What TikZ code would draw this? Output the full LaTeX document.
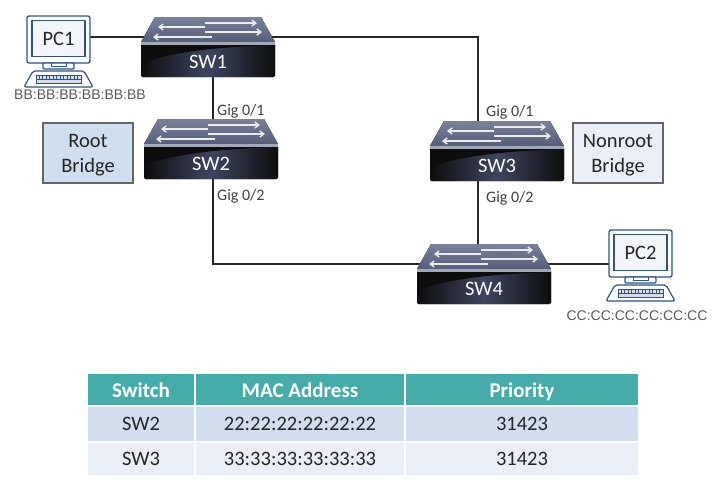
\documentclass[tikz,border=0pt]{standalone}
\usepackage{fontspec}
\setmainfont{Carlito}
\newfontfamily\arialfont{Liberation Sans}
\usetikzlibrary{backgrounds,calc,arrows.meta}
\definecolor{pcblue}{HTML}{2F5485}
\definecolor{swtop}{HTML}{7A8199}
\definecolor{swtopd}{HTML}{555D7A}
\definecolor{swbody}{HTML}{3E4560}
\definecolor{swedge}{HTML}{A3A8B6}
\definecolor{tealhead}{HTML}{45ACA9}
\definecolor{rowa}{HTML}{D2DDEE}
\definecolor{rowb}{HTML}{E9EEF7}
\definecolor{rootfill}{HTML}{CFDFF0}
\tikzset{
  link/.style={draw=black!85,line width=1.6pt},
  swnode/.style={inner sep=0pt,minimum width=134pt,minimum height=60pt},
  swlabel/.style={text=white,font=\fontsize{20.5}{24}\selectfont,inner sep=0pt},
  swarrow/.style={draw=white!92!black,line width=1.4pt,-{Straight Barb[length=4pt,width=6pt]}},
  pcframe/.style={draw=pcblue,line width=1.3pt,fill=white,rounded corners=2pt},
  pcscreen/.style={draw=pcblue,line width=1.3pt,fill=rowb!60!white,inner sep=0pt,minimum width=53pt,minimum height=36pt,text=black!85,font=\fontsize{20.5}{24}\selectfont},
  maclabel/.style={text=black!65,font=\arialfont\fontsize{14}{16}\selectfont,inner sep=0pt},
  portlabel/.style={text=black!75,font=\fontsize{16}{18}\selectfont,inner sep=0pt,anchor=west},
  bridgebox/.style={draw=black!60,line width=1.3pt,inner sep=0pt,minimum width=90pt,minimum height=60pt,text=black!85,font=\fontsize{20.5}{25}\selectfont},
  headcell/.style={fill=tealhead,text=white,inner sep=0pt,text height=16pt,text depth=0pt,font=\bfseries\fontsize{21}{24}\selectfont},
  rowcell/.style={inner sep=0pt,text height=14pt,text depth=2pt,text=black!85,font=\fontsize{20.5}{24}\selectfont}
}
% name, left, top, label
\newcommand{\switchicon}[4]{%
  \begin{scope}[shift={(#2,#3)}]
    \node[swnode] (#1) at (67,30) {};
    \coordinate (#1-p) at (67,20);
    \fill[top color=swtop,bottom color=swtopd] (14,0) -- (120,0) -- (134,25) -- (0,25) -- cycle;
    \fill[left color=black!95,right color=black!95,middle color=swbody,rounded corners=1.5pt] (0,26) -- (134,26) -- (134,60) -- (0,60) -- cycle;
    \fill[black!95] (0,28) -- (134,28) .. controls (90,30) and (40,32) .. (0,46) -- cycle;
    \fill[swedge] (0,25) -- (134,25) -- (134,27.5) -- (0,27.5) -- cycle;
    \draw[swarrow] (64,6) -- (116,6);
    \draw[swarrow] (64,10) -- (17,10);
    \draw[swarrow] (64,15) -- (121,15);
    \draw[swarrow] (71,20) -- (12,20);
    \node[swlabel] (#1-l) at (67,45) {#4};
  \end{scope}}
% name, left, top, label
\newcommand{\pcicon}[4]{%
  \begin{scope}[shift={(#2,#3)}]
    \draw[pcframe] (0,0) rectangle (63,47);
    \node[pcscreen] (#1) at (31.5,22.5) {#4};
    \draw[pcblue,line width=1.2pt,fill=white,rounded corners=1pt] (16,47) rectangle (47,53);
    \draw[pcblue,line width=1pt] (24,47) -- (24,50) -- (39,50) -- (39,47);
    \draw[pcblue,line width=1.2pt,fill=white,rounded corners=2pt] (6,55) -- (57,55) -- (66,71) -- (-3,71) -- cycle;
    \draw[pcblue,line width=1pt,fill=rowa] (9,59) rectangle (54,67);
    \foreach \kx in {12,15.5,...,51}{\draw[pcblue,line width=.7pt] (\kx,59) -- (\kx,64);}
    \draw[pcblue,line width=.9pt] (9,63) -- (54,63);
  \end{scope}}
\newcommand{\bridgetext}[1]{\parbox{88pt}{\centering\vspace*{5pt}#1}}
\begin{document}
\begin{tikzpicture}[x=1pt,y=-1pt]
\useasboundingbox (0,0) rectangle (723,488);
\switchicon{sw1}{141}{17}{SW1}
\switchicon{sw2}{144}{119}{SW2}
\switchicon{sw3}{430}{121}{SW3}
\switchicon{sw4}{417}{244}{SW4}
\pcicon{pc1}{27}{16}{PC1}
\pcicon{pc2}{609}{230}{PC2}
\coordinate (vleft) at (213,0);
\coordinate (vright) at (478,0);
\begin{scope}[on background layer]
  \draw[link] (pc1.east |- sw1-p) -- (sw1-p);
  \draw[link] (vleft |- sw1.south) -- (vleft |- sw2.north);
  \draw[link] (vleft |- sw2.south) |- (sw4-p);
  \draw[link] (sw1-p) -| (vright |- sw3.north);
  \draw[link] (vright |- sw3.south) -- (vright |- sw4.north);
  \draw[link] (sw4-p) -- (pc2 |- sw4-p);
\end{scope}
\node[maclabel] (macb) at (80,95) {BB:BB:BB:BB:BB:BB};
\node[maclabel] (macc) at (637,316) {CC:CC:CC:CC:CC:CC};
\node[portlabel] (g1) at (217,111) {Gig 0/1};
\node[portlabel] (g2) at (217,196) {Gig 0/2};
\node[portlabel] (g3) at (486,112) {Gig 0/1};
\node[portlabel] (g4) at (486,198) {Gig 0/2};
\node[bridgebox,fill=rootfill] (root) at (88,153) {\bridgetext{Root\\Bridge}};
\node[bridgebox,fill=rowb] (nonroot) at (618,153) {\bridgetext{Nonroot\\Bridge}};
% table
\node[headcell,minimum width=106pt,minimum height=31pt] (h1) at (141,389.5) {Switch};
\node[headcell,minimum width=208pt,minimum height=31pt] (h2) at (300,389.5) {MAC Address};
\node[headcell,minimum width=232pt,minimum height=31pt] (h3) at (522,389.5) {Priority};
\node[rowcell,fill=rowa,minimum width=106pt,minimum height=34pt] (a1) at (141,424) {SW2};
\node[rowcell,fill=rowa,minimum width=208pt,minimum height=34pt] (a2) at (300,424) {22:22:22:22:22:22};
\node[rowcell,fill=rowa,minimum width=232pt,minimum height=34pt] (a3) at (522,424) {31423};
\node[rowcell,fill=rowb,minimum width=106pt,minimum height=32pt] (b1) at (141,459) {SW3};
\node[rowcell,fill=rowb,minimum width=208pt,minimum height=32pt] (b2) at (300,459) {33:33:33:33:33:33};
\node[rowcell,fill=rowb,minimum width=232pt,minimum height=32pt] (b3) at (522,459) {31423};
\end{tikzpicture}
\end{document}
